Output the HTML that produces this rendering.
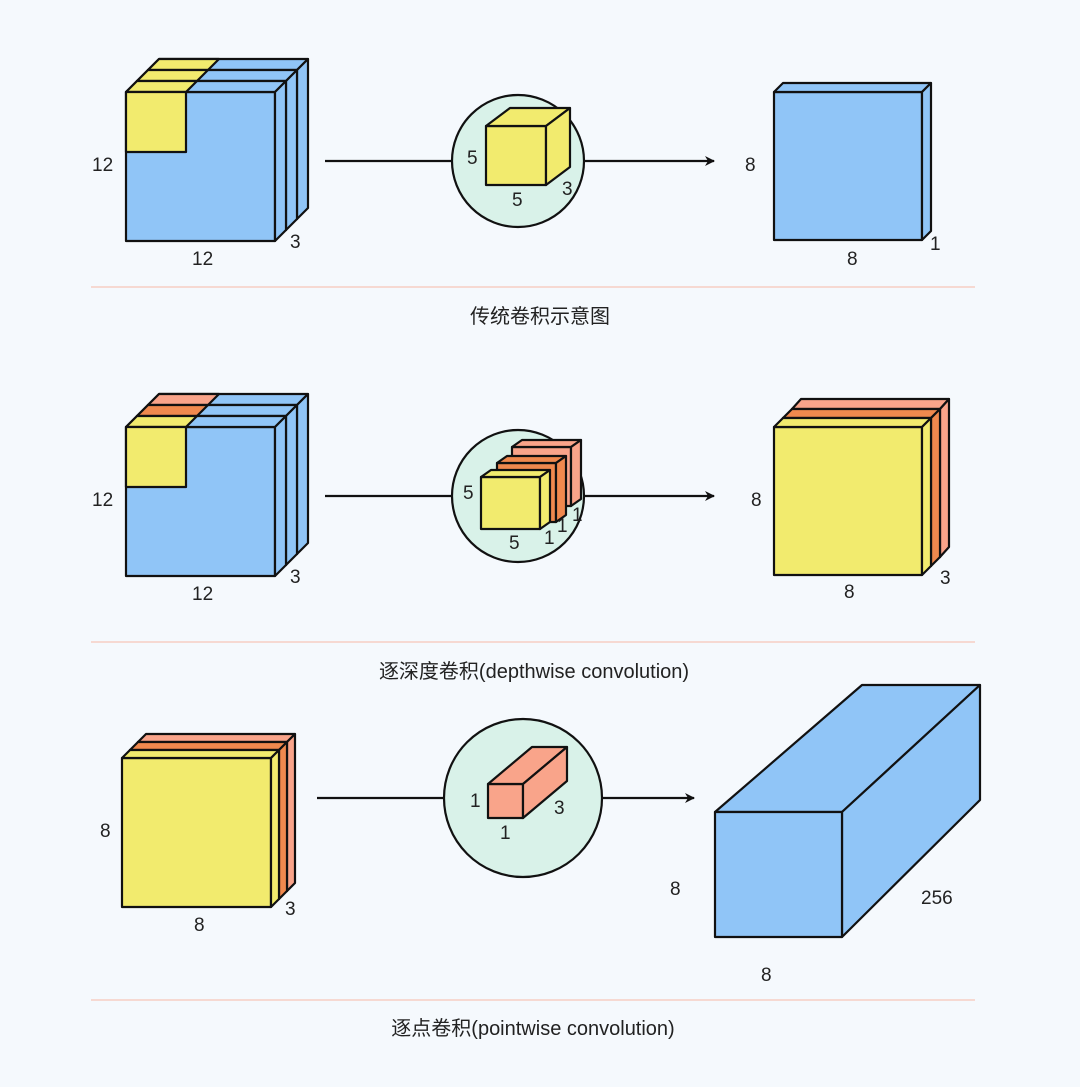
<!DOCTYPE html>
<html><head><meta charset="utf-8"><style>
html,body{margin:0;padding:0;background:#f5f9fd;}
svg{display:block}
text{font-family:"Liberation Sans","Noto Sans CJK SC",sans-serif;font-size:19px;fill:#222;}
.c{font-size:20px;}
</style></head><body>
<svg width="1080" height="1087" viewBox="0 0 1080 1087" xmlns="http://www.w3.org/2000/svg">
<defs><marker id="ar" markerWidth="10" markerHeight="10" refX="9" refY="5" orient="auto" markerUnits="userSpaceOnUse" viewBox="0 0 10 10"><path d="M0,0 L10,5 L0,10 L3,5 z" fill="#111"/></marker></defs>
<rect width="1080" height="1087" fill="#f5f9fd"/>
<g stroke="#111" stroke-width="2.2" stroke-linejoin="round">
<!-- FIG 1 input: 3 blue slabs -->
<g fill="#90c5f7">
<rect x="148" y="70" width="149" height="149"/><polygon points="148,70 159,59 308,59 297,70"/><polygon points="297,70 308,59 308,208 297,219"/>
<rect x="137" y="81" width="149" height="149"/><polygon points="137,81 148,70 297,70 286,81"/><polygon points="286,81 297,70 297,219 286,230"/>
<rect x="126" y="92" width="149" height="149"/><polygon points="126,92 137,81 286,81 275,92"/><polygon points="275,92 286,81 286,230 275,241"/>
</g>
<g fill="#f2eb6e">
<polygon points="148,70 159,59 219,59 208,70"/><polygon points="137,81 148,70 208,70 197,81"/><polygon points="126,92 137,81 197,81 186,92"/>
<rect x="126" y="92" width="60" height="60"/>
</g>
<!-- circle 1 -->
<line x1="325" y1="161" x2="452" y2="161"/>
<line x1="584" y1="161" x2="714" y2="161" marker-end="url(#ar)"/>
<circle cx="518" cy="161" r="66" fill="#d9f2e9"/>
<g fill="#f2eb6e"><rect x="486" y="126" width="60" height="59"/><polygon points="486,126 510,108 570,108 546,126"/><polygon points="546,126 570,108 570,167 546,185"/></g>
<!-- output 1 -->
<g fill="#90c5f7"><rect x="774" y="92" width="148" height="148"/><polygon points="774,92 783,83 931,83 922,92"/><polygon points="922,92 931,83 931,231 922,240"/></g>
<line x1="91" y1="287" x2="975" y2="287" stroke="#f6c6b8" stroke-width="1.2"/>

<!-- FIG 2 input -->
<g fill="#90c5f7">
<rect x="148" y="405" width="149" height="149"/><polygon points="148,405 159,394 308,394 297,405"/><polygon points="297,405 308,394 308,543 297,554"/>
<rect x="137" y="416" width="149" height="149"/><polygon points="137,416 148,405 297,405 286,416"/><polygon points="286,416 297,405 297,554 286,565"/>
<rect x="126" y="427" width="149" height="149"/><polygon points="126,427 137,416 286,416 275,427"/><polygon points="275,427 286,416 286,565 275,576"/>
</g>
<polygon points="148,405 159,394 219,394 208,405" fill="#f9a48a"/>
<polygon points="137,416 148,405 208,405 197,416" fill="#f0894e"/>
<polygon points="126,427 137,416 197,416 186,427" fill="#f2eb6e"/>
<rect x="126" y="427" width="60" height="60" fill="#f2eb6e"/>
<line x1="325" y1="496" x2="452" y2="496"/>
<line x1="584" y1="496" x2="714" y2="496" marker-end="url(#ar)"/>
<circle cx="518" cy="496" r="66" fill="#d9f2e9"/>
<g fill="#f9a48a"><rect x="512" y="447" width="59" height="59"/><polygon points="512,447 522,440 581,440 571,447"/><polygon points="571,447 581,440 581,499 571,506"/></g>
<g fill="#f0894e"><rect x="497" y="463" width="59" height="59"/><polygon points="497,463 507,456 566,456 556,463"/><polygon points="556,463 566,456 566,515 556,522"/></g>
<g fill="#f2eb6e"><rect x="481" y="477" width="59" height="52"/><polygon points="481,477 491,470 550,470 540,477"/><polygon points="540,477 550,470 550,522 540,529"/></g>
<!-- output 2 -->
<g fill="#f9a48a"><rect x="792" y="409" width="148" height="148"/><polygon points="792,409 801,399 949,399 940,409"/><polygon points="940,409 949,399 949,547 940,557"/></g>
<g fill="#f0894e"><rect x="783" y="418" width="148" height="148"/><polygon points="783,418 792,409 940,409 931,418"/><polygon points="931,418 940,409 940,557 931,566"/></g>
<g fill="#f2eb6e"><rect x="774" y="427" width="148" height="148"/><polygon points="774,427 783,418 931,418 922,427"/><polygon points="922,427 931,418 931,566 922,575"/></g>
<line x1="91" y1="642" x2="975" y2="642" stroke="#f6c6b8" stroke-width="1.2"/>

<!-- FIG 3 input -->
<g fill="#f9a48a"><rect x="138" y="742" width="149" height="149"/><polygon points="138,742 146,734 295,734 287,742"/><polygon points="287,742 295,734 295,883 287,891"/></g>
<g fill="#f0894e"><rect x="130" y="750" width="149" height="149"/><polygon points="130,750 138,742 287,742 279,750"/><polygon points="279,750 287,742 287,891 279,899"/></g>
<g fill="#f2eb6e"><rect x="122" y="758" width="149" height="149"/><polygon points="122,758 130,750 279,750 271,758"/><polygon points="271,758 279,750 279,899 271,907"/></g>
<line x1="317" y1="798" x2="444" y2="798"/>
<line x1="602" y1="798" x2="694" y2="798" marker-end="url(#ar)"/>
<circle cx="523" cy="798" r="79" fill="#d9f2e9"/>
<g fill="#f9a48a"><rect x="488" y="784" width="35" height="34"/><polygon points="488,784 532,747 567,747 523,784"/><polygon points="523,784 567,747 567,781 523,818"/></g>
<!-- output 3 -->
<g fill="#90c5f7"><polygon points="715,812 862,685 980,685 842,812"/><polygon points="842,812 980,685 980,800 842,937"/><rect x="715" y="812" width="127" height="125"/></g>
<line x1="91" y1="1000" x2="975" y2="1000" stroke="#f6c6b8" stroke-width="1.2"/>
</g>
<!-- labels -->
<text x="92" y="171">12</text><text x="192" y="265">12</text><text x="290" y="248">3</text>
<text x="467" y="164">5</text><text x="512" y="206">5</text><text x="562" y="195">3</text>
<text x="745" y="171">8</text><text x="847" y="265">8</text><text x="930" y="250">1</text>
<text class="c" x="540" y="323" text-anchor="middle">传统卷积示意图</text>

<text x="92" y="506">12</text><text x="192" y="600">12</text><text x="290" y="583">3</text>
<text x="463" y="499">5</text><text x="509" y="549">5</text><text x="544" y="544">1</text><text x="557" y="532">1</text><text x="572" y="521">1</text>
<text x="751" y="506">8</text><text x="844" y="598">8</text><text x="940" y="584">3</text>
<text class="c" x="534" y="678" text-anchor="middle">逐深度卷积(depthwise convolution)</text>

<text x="100" y="837">8</text><text x="194" y="931">8</text><text x="285" y="915">3</text>
<text x="470" y="807">1</text><text x="500" y="839">1</text><text x="554" y="814">3</text>
<text x="670" y="895">8</text><text x="761" y="981">8</text><text x="921" y="904">256</text>
<text class="c" x="533" y="1035" text-anchor="middle">逐点卷积(pointwise convolution)</text>
</svg>
</body></html>
